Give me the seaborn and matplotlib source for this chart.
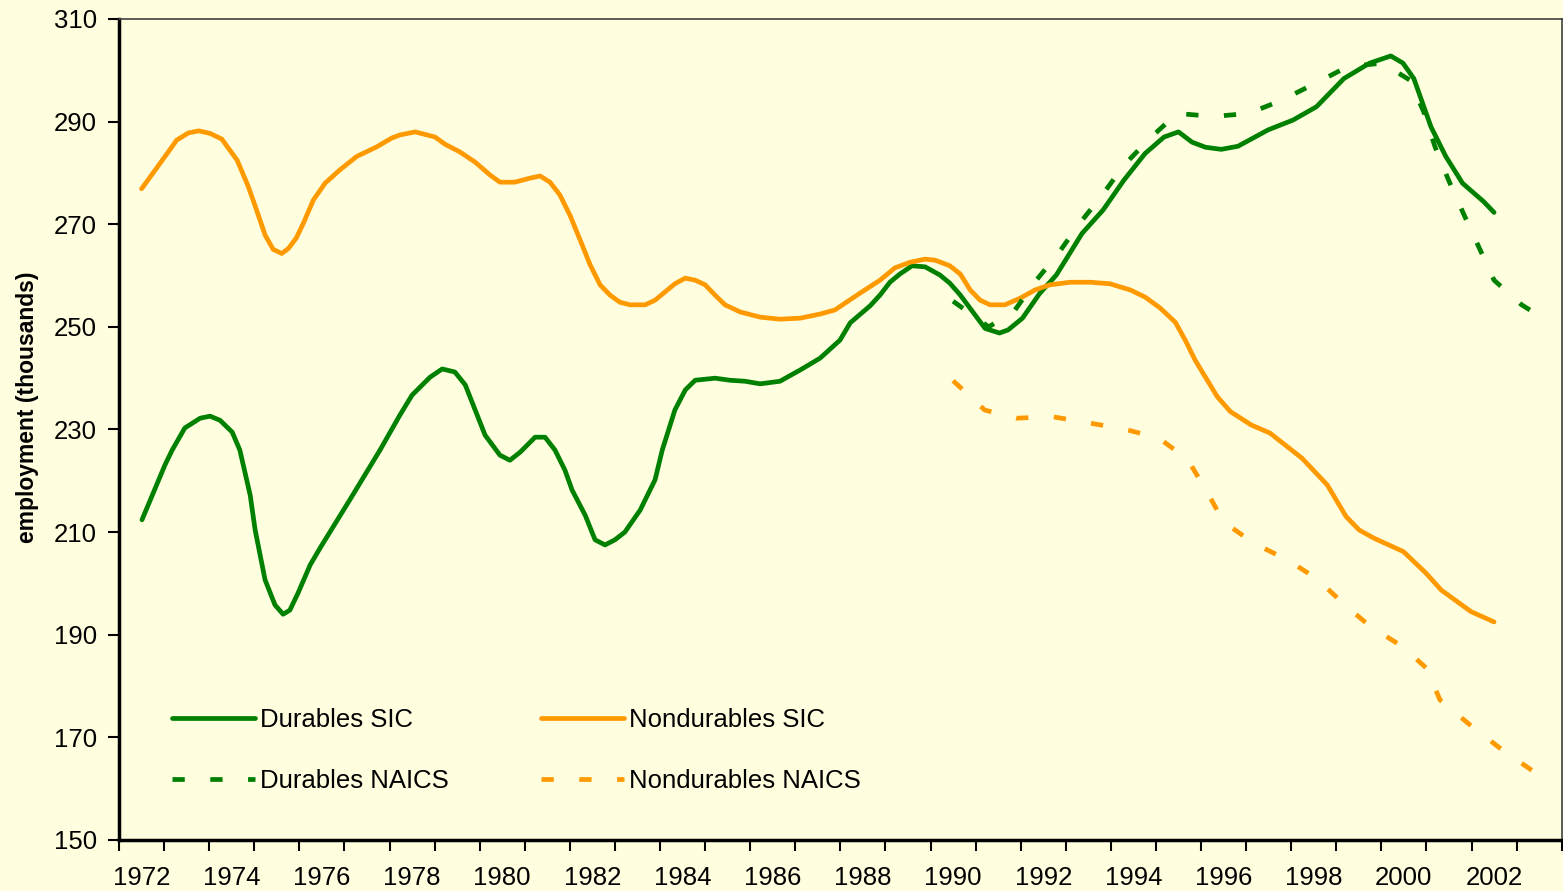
import seaborn as sns
import matplotlib.pyplot as plt
from matplotlib.ticker import NullFormatter

# values (fractional years, thousands of jobs)
dur_sic_years = [1972.51, 1973.02, 1973.18, 1973.46, 1973.8, 1974.02, 1974.24, 1974.51, 1974.68, 1974.91,
                 1975.02, 1975.24, 1975.46, 1975.64, 1975.79, 1975.97, 1976.24, 1976.46, 1977.12, 1977.79,
                 1978.23, 1978.5, 1978.9, 1979.17, 1979.45, 1979.68, 1979.9, 1980.12, 1980.45, 1980.67,
                 1980.9, 1981.23, 1981.45, 1981.67, 1981.89, 1982.05, 1982.34, 1982.56, 1982.78, 1983.0,
                 1983.22, 1983.56, 1983.89, 1984.05, 1984.33, 1984.56, 1984.78, 1985.22, 1985.55, 1985.89,
                 1986.22, 1986.66, 1987.11, 1987.55, 1987.99, 1988.22, 1988.66, 1988.88, 1989.1, 1989.32,
                 1989.59, 1989.88, 1990.21, 1990.43, 1990.66, 1990.99, 1991.21, 1991.53, 1991.72, 1992.04,
                 1992.42, 1992.79, 1993.36, 1993.83, 1994.29, 1994.76, 1995.18, 1995.5, 1995.8, 1996.1,
                 1996.45, 1996.82, 1997.49, 1998.04, 1998.56, 1999.17, 1999.74, 2000.21, 2000.48, 2000.72,
                 2001.1, 2001.43, 2001.8, 2002.27, 2002.5]
dur_sic = [212.4, 223.1, 226, 230.3, 232.2, 232.6, 231.8, 229.5, 226, 217.2,
           210.4, 200.7, 195.8, 194, 194.8, 198.1, 203.6, 206.9, 216.3, 226,
           232.8, 236.7, 240.2, 241.8, 241.2, 238.7, 233.8, 228.9, 225, 224,
           225.6, 228.5, 228.5, 226, 222.1, 218.2, 213.3, 208.5, 207.5, 208.5,
           210, 214.3, 220.2, 226, 233.8, 237.7, 239.6, 240, 239.6, 239.4,
           238.9, 239.4, 241.6, 243.9, 247.4, 250.8, 254.1, 256.2, 258.7, 260.3,
           261.9, 261.7, 260.1, 258.5, 256.2, 252.3, 249.7, 248.8, 249.4, 251.7,
           256.5, 260.1, 268.2, 272.8, 278.6, 283.8, 287, 288, 286, 285,
           284.6, 285.2, 288.4, 290.3, 292.9, 298.4, 301.4, 302.8, 301.4, 298.4,
           289, 283.2, 278, 274.4, 272.3]

nd_sic_years = [1972.5, 1973.02, 1973.28, 1973.54, 1973.77, 1974.02, 1974.28, 1974.62, 1974.87, 1975.05,
                1975.24, 1975.42, 1975.61, 1975.76, 1975.93, 1976.09, 1976.31, 1976.57, 1976.9, 1977.27,
                1977.72, 1978.05, 1978.23, 1978.57, 1979.01, 1979.23, 1979.56, 1979.9, 1980.23, 1980.45,
                1980.78, 1981.12, 1981.34, 1981.56, 1981.78, 1982.0, 1982.23, 1982.45, 1982.67, 1982.89,
                1983.11, 1983.34, 1983.67, 1983.89, 1984.11, 1984.33, 1984.56, 1984.78, 1985.0, 1985.22,
                1985.44, 1985.78, 1986.22, 1986.66, 1987.11, 1987.55, 1987.88, 1988.1, 1988.44, 1988.88,
                1989.21, 1989.55, 1989.88, 1990.1, 1990.43, 1990.66, 1990.88, 1991.1, 1991.32, 1991.65,
                1991.99, 1992.32, 1992.65, 1993.1, 1993.54, 1993.98, 1994.43, 1994.76, 1995.09, 1995.43,
                1995.65, 1995.87, 1996.36, 1996.65, 1997.11, 1997.53, 1998.24, 1998.8, 1999.22, 1999.51,
                1999.84, 2000.49, 2000.99, 2001.33, 2001.99, 2002.5]
nd_sic = [276.9, 283.2, 286.4, 287.8, 288.2, 287.7, 286.6, 282.5, 277.3, 272.8,
          267.9, 265.1, 264.3, 265.3, 267.3, 270.2, 274.7, 278, 280.6, 283.2,
          285.1, 286.8, 287.4, 288, 287, 285.6, 284.1, 282.1, 279.6, 278.2,
          278.2, 279, 279.4, 278.2, 275.7, 271.8, 266.9, 262.1, 258.2, 256.2,
          254.8, 254.3, 254.3, 255.2, 256.8, 258.4, 259.5, 259.1, 258.2, 256.2,
          254.3, 252.9, 251.9, 251.5, 251.7, 252.5, 253.3, 254.6, 256.6, 259.1,
          261.5, 262.6, 263.2, 263, 261.9, 260.3, 257.2, 255.2, 254.3, 254.3,
          255.6, 257.2, 258.2, 258.7, 258.7, 258.4, 257.2, 255.8, 253.7, 250.9,
          247.4, 243.5, 236.4, 233.5, 230.9, 229.3, 224.4, 219.2, 213, 210.4,
          208.8, 206.2, 202, 198.7, 194.5, 192.5]

dur_naics_years = [1990.5, 1990.9, 1991.29, 1991.85, 1992.32, 1992.84, 1993.31, 1993.81, 1994.29, 1994.86,
                   1995.47, 1996.27, 1997.06, 1997.77, 1998.5, 1999.25, 2000.02, 2000.63, 2000.94, 2001.19,
                   2001.49, 2001.82, 2002.16, 2002.5, 2003.11, 2003.35]
dur_naics = [255, 252.5, 250, 253, 258.8, 264.4, 270.2, 275.7, 281.5, 286.7,
             291.6, 291, 291.6, 294.1, 297.3, 300.7, 301.4, 298.1, 291.9, 285.1,
             278.6, 272.1, 265.6, 259.1, 254.3, 253]

nd_naics_years = [1990.5, 1990.75, 1991.2, 1991.9, 1992.7, 1993.5, 1994.29, 1995.07, 1995.7, 1996.13,
                  1996.5, 1997.16, 1997.91, 1998.56, 1999.13, 1999.74, 2000.45, 2001.0, 2001.3, 2001.97,
                  2002.63, 2003.4]
nd_naics = [239.5, 237.5, 233.8, 232.2, 232.5, 231.3, 230.1, 228.3, 224.2, 217.9,
            212, 207.9, 204.6, 201, 196.3, 191.7, 187.8, 183.5, 177.3, 172.4,
            167.9, 163.2]

label_years = list(range(1972, 2003, 2))

sns.set_style('ticks')
plt.rcParams['font.family'] = ['Liberation Sans', 'DejaVu Sans']
plt.rcParams['text.color'] = 'black'

bg = '#FFFFE0'
green = '#008000'
orange = '#FF9900'
lw = 3.4
dash = (0, (2.6, 5.4))
fs = 18.5

fig = plt.figure(figsize=(15.63, 8.91), dpi=100, facecolor=bg)
ax = fig.add_axes([119 / 1563, 51 / 891, 1442.7 / 1563, 821 / 891])
ax.set_facecolor(bg)

line_kw = dict(ax=ax, estimator=None, sort=False, lw=lw)
sns.lineplot(x=dur_sic_years, y=dur_sic, color=green, solid_capstyle='round', **line_kw)
sns.lineplot(x=nd_sic_years, y=nd_sic, color=orange, solid_capstyle='round', **line_kw)
sns.lineplot(x=dur_naics_years, y=dur_naics, color=green, linestyle=dash, dash_capstyle='butt', **line_kw)
sns.lineplot(x=nd_naics_years, y=nd_naics, color=orange, linestyle=dash, dash_capstyle='butt', **line_kw)

ax.set_xlim(1972, 2004)
ax.set_ylim(150, 310)
ax.set_yticks(range(150, 311, 20))
ax.set_xticks(range(1972, 2005))
ax.xaxis.set_major_formatter(NullFormatter())
ax.set_xticks([y + 0.5 for y in label_years], minor=True)
ax.set_xticklabels([str(y) for y in label_years], minor=True)

ax.tick_params(axis='y', which='major', length=8, width=1.5, pad=8, labelsize=fs,
               color='black', labelcolor='black')
ax.tick_params(axis='x', which='major', length=8, width=1.5, color='black')
ax.tick_params(axis='x', which='minor', length=0, pad=19, labelsize=fs, labelcolor='black')

for side in ['left', 'bottom']:
    ax.spines[side].set_linewidth(2.5)
    ax.spines[side].set_color('black')
for side in ['top', 'right']:
    ax.spines[side].set_visible(True)
    ax.spines[side].set_linewidth(1.2)
    ax.spines[side].set_color('#404040')

ax.set_ylabel('employment (thousands)', fontsize=16.5, fontweight='bold', color='black')
ax.yaxis.set_label_coords(-0.0555, 0.527)
ax.set_xlabel('')

lines = ax.get_lines()
leg = ax.legend(handles=[lines[0], lines[2], lines[1], lines[3]],
                labels=['Durables SIC', 'Durables NAICS', 'Nondurables SIC', 'Nondurables NAICS'],
                ncol=2, frameon=False, loc='upper left', bbox_to_anchor=(0.0367, 0.1602),
                handlelength=3.23, handletextpad=0.2, columnspacing=3.58, labelspacing=1.41,
                fontsize=fs, borderaxespad=0, borderpad=0)
for t in leg.get_texts():
    t.set_color('black')

fig.savefig('out.png', dpi=100, facecolor=bg)
